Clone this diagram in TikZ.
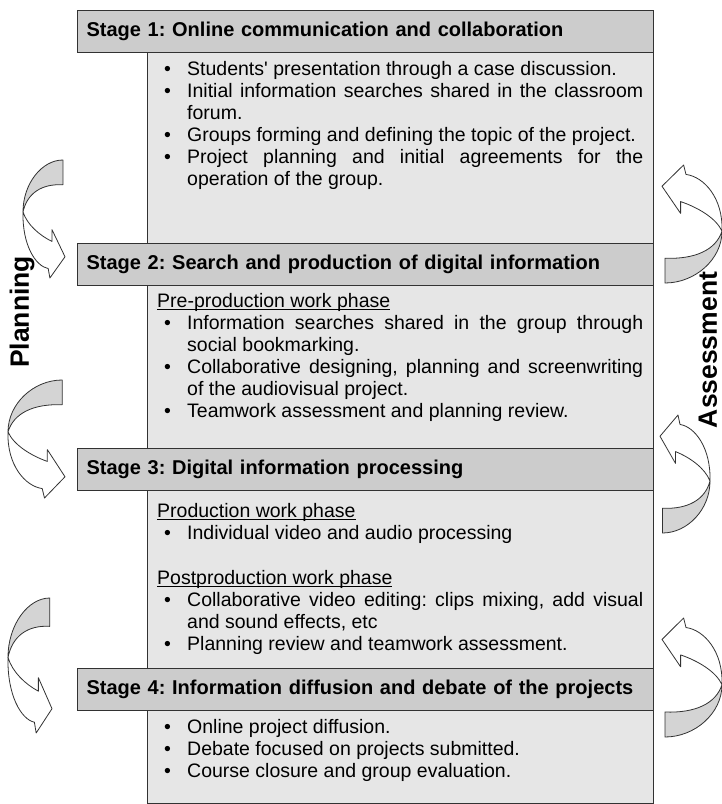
\documentclass[tikz,border=0pt]{standalone}
\usepackage{fontspec}
\setmainfont{Liberation Sans}
\usepackage{tikz}
\usetikzlibrary{positioning}
\definecolor{headgray}{RGB}{204,204,204}
\definecolor{bodygray}{RGB}{230,230,230}
\definecolor{arrowgray}{RGB}{212,212,212}
\definecolor{edgegray}{RGB}{50,50,50}
\frenchspacing
\hyphenpenalty=10000
\exhyphenpenalty=10000
\tolerance=9999
\emergencystretch=30pt
\newcommand{\bitem}[1]{\hangindent=30pt\hangafter=1\noindent\hspace*{7pt}\makebox[23pt][l]{\textbullet}#1\par}
\newsavebox{\phasebox}
\newcommand{\phase}[1]{\noindent\sbox{\phasebox}{#1}\rlap{\rule[-2.6pt]{\wd\phasebox}{0.9pt}}\usebox{\phasebox}\par}
% twisted band arrow: x, y, xscale, yscale
\newcommand{\bentarrow}[4]{%
  \begin{scope}[shift={(#1,#2)}, xscale=#3, yscale=#4]
    \filldraw[arrowline, fill=arrowgray] (0,0.44) .. controls (0,0.2) and (0.45,0) .. (0.95,0) -- (0.95,0.21) .. controls (0.45,0.2) and (0.1,0.28) .. (0,0.44) -- cycle;
    \filldraw[arrowline, fill=white] (0,0.44) .. controls (-0.02,0.72) and (0.3,0.9) .. (0.6,0.92) -- (0.64,1) -- (1,0.82) -- (0.69,0.59) -- (0.69,0.69) .. controls (0.4,0.64) and (0.1,0.55) .. (0,0.44) -- cycle;
  \end{scope}}

\begin{document}
\begin{tikzpicture}[
        x=1pt, y=-1pt,
        head/.style={draw=edgegray, fill=headgray, line width=1.2pt, anchor=north west, text width=558pt, align=left, inner xsep=9pt, inner ysep=0pt, minimum height=42pt, font=\bfseries\fontsize{20}{22}\selectfont},
        body/.style={draw=edgegray, fill=bodygray, line width=1.2pt, anchor=north west, minimum width=506pt, inner sep=0pt},
        txt/.style={anchor=base west, text width=486pt, inner sep=0pt, align=justify, font=\fontsize{19.5}{22}\selectfont},
        side/.style={rotate=90, inner sep=0pt, font=\bfseries\fontsize{26.5}{30}\selectfont},
        arrowline/.style={draw=edgegray, line width=0.8pt, line join=round}
    ]
    \useasboundingbox (0,0) rectangle (722,804);

    \node[body, minimum height=191pt] (b1) at (147,52) {};
    \node[body, minimum height=164pt] (b2) at (147,284) {};
    \node[body, minimum height=178pt] (b3) at (147,490) {};
    \node[body, minimum height=93pt] (b4) at (147,710) {};

    \node[head] (h1) at (77,10) {Stage 1: Online communication and collaboration};
    \node[head] (h2) at (77,243) {Stage 2: Search and production of digital information};
    \node[head] (h3) at (77,448) {Stage 3: Digital information processing};
    \node[head] (h4) at (77,668) {Stage 4: Information diffusion and debate of the projects};

    \node[txt] (t1) at (157,75) {\bitem{Students\textquotesingle\ presentation through a case discussion.}\bitem{Initial information searches shared in the classroom forum.}\bitem{Groups forming and defining the topic of the project.}\bitem{Project planning and initial agreements for the operation of the group.}};
    \node[txt] (t2) at (157,307) {\phase{Pre-production work phase}\bitem{Information searches shared in the group through social bookmarking.}\bitem{Collaborative designing, planning and screenwriting of the audiovisual project.}\bitem{Teamwork assessment and planning review.}};
    \node[txt] (t3) at (157,517) {\phase{Production work phase}\bitem{Individual video and audio processing}\vspace{23pt}\phase{Postproduction work phase}\bitem{Collaborative video editing: clips mixing, add visual and sound effects, etc}\bitem{Planning review and teamwork assessment.}};
    \node[txt] (t4) at (157,733) {\bitem{Online project diffusion.}\bitem{Debate focused on projects submitted.}\bitem{Course closure and group evaluation.}};

    \node[side] (plan) at (22,312) {Planning};
    \node[side] (assess) at (708,350) {Assessment};

    \bentarrow{23}{160}{42}{118}
    \bentarrow{8}{380}{57}{118}
    \bentarrow{8}{598}{44}{135}
    \bentarrow{722}{283}{-60}{-118}
    \bentarrow{710}{533}{-50}{-118}
    \bentarrow{722}{737}{-60}{-119}
\end{tikzpicture}
\end{document}
